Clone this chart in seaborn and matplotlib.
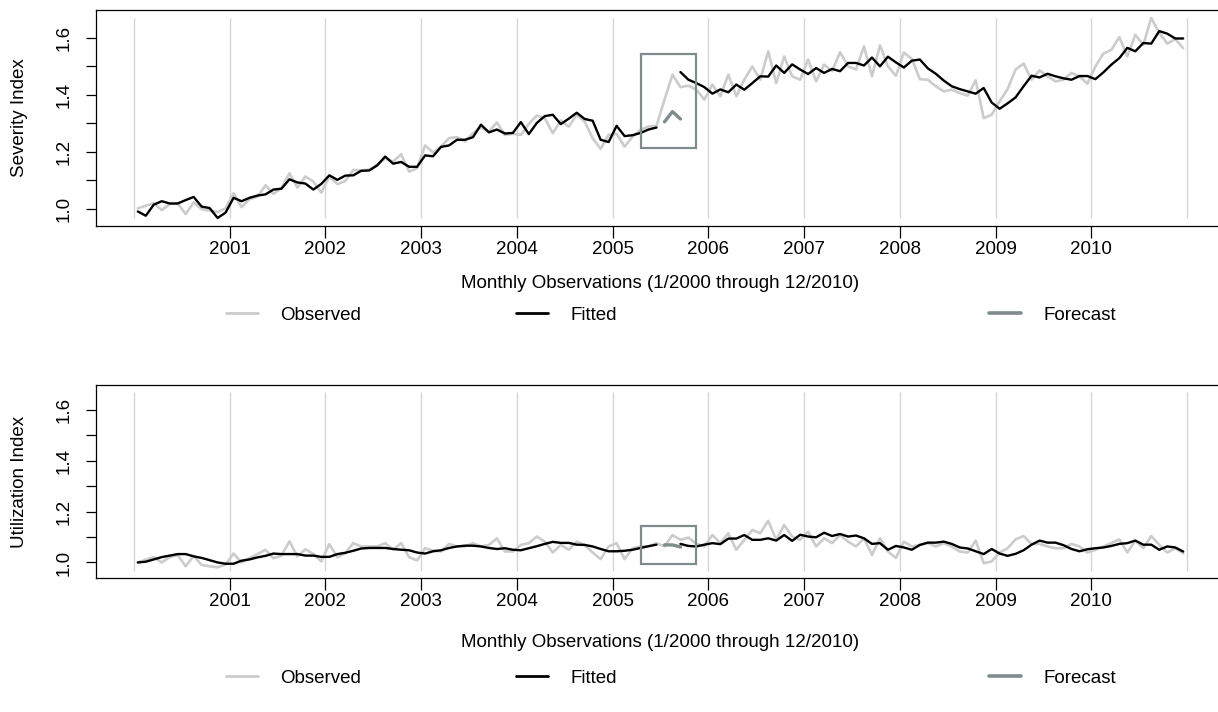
import numpy as np
import pandas as pd
import seaborn as sns
import matplotlib.pyplot as plt
from matplotlib.lines import Line2D
from matplotlib.patches import Rectangle

# monthly index 1..132 = Jan 2000 .. Dec 2010
months = np.arange(1, 133)
year_labels = [str(y) for y in range(2001, 2011)]
forecast_months = [67, 68, 69]

severity_observed = [
    1.001, 1.010, 1.019, 0.995, 1.016, 1.018, 0.981, 1.022, 0.998, 0.993, 0.988, 1.001,
    1.054, 1.005, 1.033, 1.042, 1.082, 1.052, 1.072, 1.124, 1.074, 1.113, 1.095, 1.056,
    1.113, 1.086, 1.097, 1.136, 1.134, 1.137, 1.154, 1.176, 1.165, 1.191, 1.130, 1.142,
    1.222, 1.197, 1.218, 1.248, 1.251, 1.236, 1.265, 1.285, 1.271, 1.303, 1.259, 1.263,
    1.259, 1.298, 1.327, 1.318, 1.265, 1.310, 1.288, 1.330, 1.306, 1.247, 1.210, 1.259,
    1.263, 1.218, 1.253, 1.277, 1.289, 1.291, 1.383, 1.471, 1.427, 1.432, 1.418, 1.383,
    1.436, 1.395, 1.471, 1.395, 1.453, 1.500, 1.453, 1.553, 1.441, 1.535, 1.465, 1.453,
    1.524, 1.447, 1.506, 1.483, 1.550, 1.500, 1.489, 1.570, 1.465, 1.574, 1.500, 1.467,
    1.549, 1.526, 1.455, 1.453, 1.430, 1.412, 1.418, 1.406, 1.397, 1.451, 1.318, 1.330,
    1.377, 1.420, 1.489, 1.510, 1.453, 1.486, 1.465, 1.447, 1.453, 1.477, 1.465, 1.439,
    1.500, 1.545, 1.558, 1.603, 1.535, 1.611, 1.576, 1.670, 1.618, 1.580, 1.596, 1.564,
]
severity_fitted = [
    0.990, 0.975, 1.014, 1.026, 1.018, 1.018, 1.030, 1.041, 1.007, 1.002, 0.967, 0.986,
    1.038, 1.026, 1.038, 1.046, 1.050, 1.067, 1.070, 1.103, 1.092, 1.088, 1.067, 1.087,
    1.117, 1.101, 1.116, 1.117, 1.133, 1.134, 1.152, 1.183, 1.158, 1.164, 1.147, 1.147,
    1.187, 1.184, 1.217, 1.222, 1.242, 1.242, 1.251, 1.295, 1.268, 1.278, 1.264, 1.266,
    1.304, 1.262, 1.301, 1.325, 1.330, 1.297, 1.316, 1.337, 1.315, 1.309, 1.242, 1.234,
    1.291, 1.255, 1.258, 1.266, 1.278, 1.285, None, None, 1.480, 1.453, 1.441, 1.427,
    1.404, 1.419, 1.409, 1.436, 1.418, 1.441, 1.465, 1.464, 1.503, 1.477, 1.507, 1.489,
    1.473, 1.494, 1.477, 1.491, 1.483, 1.512, 1.512, 1.503, 1.531, 1.500, 1.534, 1.514,
    1.496, 1.520, 1.524, 1.493, 1.474, 1.450, 1.430, 1.420, 1.412, 1.404, 1.424, 1.373,
    1.351, 1.370, 1.391, 1.430, 1.467, 1.461, 1.474, 1.465, 1.458, 1.453, 1.466, 1.466,
    1.455, 1.479, 1.506, 1.529, 1.565, 1.553, 1.582, 1.580, 1.624, 1.615, 1.598, 1.598,
]
severity_forecast = [1.305, 1.341, 1.315]

utilization_observed = [
    1.000, 1.011, 1.021, 1.000, 1.021, 1.029, 0.985, 1.026, 0.990, 0.985, 0.981, 0.992,
    1.035, 1.000, 1.017, 1.033, 1.050, 1.017, 1.027, 1.083, 1.024, 1.052, 1.034, 1.004,
    1.072, 1.021, 1.037, 1.076, 1.063, 1.063, 1.063, 1.076, 1.050, 1.076, 1.021, 1.008,
    1.056, 1.047, 1.043, 1.073, 1.063, 1.063, 1.076, 1.063, 1.069, 1.095, 1.043, 1.043,
    1.069, 1.076, 1.102, 1.082, 1.039, 1.069, 1.050, 1.082, 1.069, 1.039, 1.013, 1.063,
    1.076, 1.013, 1.056, 1.063, 1.063, 1.076, 1.063, 1.108, 1.089, 1.098, 1.073, 1.063,
    1.108, 1.076, 1.115, 1.050, 1.089, 1.128, 1.115, 1.164, 1.089, 1.147, 1.102, 1.089,
    1.121, 1.063, 1.095, 1.076, 1.108, 1.082, 1.063, 1.095, 1.030, 1.095, 1.043, 1.018,
    1.082, 1.063, 1.069, 1.076, 1.063, 1.076, 1.063, 1.043, 1.039, 1.086, 0.997, 1.004,
    1.039, 1.056, 1.091, 1.104, 1.073, 1.073, 1.063, 1.056, 1.056, 1.073, 1.063, 1.039,
    1.050, 1.063, 1.076, 1.091, 1.039, 1.086, 1.056, 1.104, 1.069, 1.039, 1.056, 1.036,
]
utilization_fitted = [
    1.000, 1.003, 1.012, 1.021, 1.027, 1.033, 1.033, 1.024, 1.018, 1.009, 1.000, 0.995,
    0.995, 1.007, 1.012, 1.020, 1.026, 1.035, 1.033, 1.033, 1.033, 1.027, 1.027, 1.022,
    1.022, 1.033, 1.038, 1.046, 1.055, 1.057, 1.057, 1.057, 1.053, 1.050, 1.048, 1.039,
    1.035, 1.044, 1.048, 1.057, 1.063, 1.066, 1.066, 1.063, 1.057, 1.053, 1.056, 1.050,
    1.048, 1.056, 1.064, 1.073, 1.081, 1.077, 1.077, 1.070, 1.069, 1.063, 1.053, 1.044,
    1.044, 1.046, 1.050, 1.057, 1.064, 1.070, None, None, 1.073, 1.065, 1.063, 1.070,
    1.076, 1.072, 1.094, 1.094, 1.108, 1.089, 1.089, 1.095, 1.086, 1.108, 1.085, 1.109,
    1.102, 1.099, 1.117, 1.104, 1.112, 1.102, 1.106, 1.095, 1.073, 1.076, 1.050, 1.065,
    1.059, 1.050, 1.069, 1.078, 1.078, 1.082, 1.073, 1.059, 1.055, 1.044, 1.033, 1.053,
    1.035, 1.026, 1.034, 1.048, 1.070, 1.086, 1.078, 1.078, 1.068, 1.053, 1.044, 1.052,
    1.056, 1.059, 1.065, 1.073, 1.076, 1.086, 1.070, 1.070, 1.050, 1.063, 1.059, 1.043,
]
utilization_forecast = [1.069, 1.069, 1.061]

OBS_COLOR = "#cccccc"
FIT_COLOR = "#000000"
FC_COLOR = "#808b8b"
GRID_COLOR = "#d6d6d6"
FS = 13.5

W, H = 1218, 712


def _segments(values):
    s = pd.Series(values, index=months, dtype=float)
    runs = s.isna().cumsum()
    for _, seg in s.dropna().groupby(runs[s.notna()]):
        yield seg


def draw_panel(fig, rect, observed, fitted, forecast, box, ylabel, xlabel_y, legend_y):
    ax = fig.add_axes(rect)

    sev = [v for v in severity_observed + severity_fitted if v is not None]
    lo, hi = min(sev), max(sev)
    pad = 0.04 * (hi - lo)
    ax.set_ylim(lo - pad, hi + pad)
    ax.set_xlim(1 - 0.04 * 131, 132 + 0.04 * 131)

    ax.vlines(np.arange(0.5, 133, 12), lo, hi, color=GRID_COLOR, lw=1.0, zorder=0)

    sns.lineplot(x=months, y=observed, ax=ax, color=OBS_COLOR, lw=1.9,
                 estimator=None, sort=False)
    for seg in _segments(fitted):
        sns.lineplot(x=seg.index, y=seg.values, ax=ax, color=FIT_COLOR, lw=1.7,
                     estimator=None, sort=False)
    sns.lineplot(x=forecast_months, y=forecast, ax=ax, color=FC_COLOR, lw=2.4,
                 estimator=None, sort=False)

    x0, x1, y0, y1 = box
    ax.add_patch(Rectangle((x0, y0), x1 - x0, y1 - y0, fill=False,
                           edgecolor=FC_COLOR, lw=1.6, zorder=5))

    ax.set_xticks(np.arange(12.5, 121, 12))
    ax.set_xticklabels(year_labels)
    yt = np.round(np.arange(1.0, 1.61, 0.1), 1)
    ax.set_yticks(yt)
    ax.set_yticklabels([f"{v:.1f}" if i % 2 == 0 else "" for i, v in enumerate(yt)],
                       rotation=90, va="center")
    ax.tick_params(axis="x", bottom=True, length=8.5, width=0.9, pad=2,
                   labelsize=FS, colors="black")
    ax.tick_params(axis="y", left=True, length=7, width=0.9, pad=10,
                   labelsize=FS, colors="black")

    for sp in ax.spines.values():
        sp.set_color("black")
        sp.set_linewidth(0.9)

    ax.set_ylabel(ylabel, fontsize=FS, color="black")
    ax.yaxis.set_label_coords(-0.060, 0.5)
    ax.set_xlabel("Monthly Observations (1/2000 through 12/2010)", fontsize=FS,
                  color="black", va="center")
    ax.xaxis.set_label_coords(0.5, xlabel_y)

    handles = [Line2D([], [], color=OBS_COLOR, lw=2.0),
               Line2D([], [], color=FIT_COLOR, lw=2.0),
               Line2D([], [], color=FC_COLOR, lw=2.6)]
    labels = ["Observed", "Fitted", "Forecast"]
    for lx, h, lab in zip([226, 516, 989], handles, labels):
        leg = fig.legend(handles=[h], labels=[lab], loc="center left",
                         bbox_to_anchor=(lx / W, 1 - legend_y / H), frameon=False,
                         borderpad=0, borderaxespad=0, handlelength=1.7,
                         handletextpad=1.2, fontsize=FS)
        for t in leg.get_texts():
            t.set_color("black")
    return ax


sns.set_style("white")
plt.rcParams["font.family"] = ["Liberation Sans", "DejaVu Sans"]

fig = plt.figure(figsize=(W / 100, H / 100), dpi=100)

left = 96 / W
width = (1225 - 96) / W
draw_panel(fig, [left, 1 - 226 / H, width, 216 / H],
           severity_observed, severity_fitted, severity_forecast,
           (64, 71, 1.213, 1.545), "Severity Index", -0.264, 315)
draw_panel(fig, [left, 1 - 578 / H, width, 193 / H],
           utilization_observed, utilization_fitted, utilization_forecast,
           (64, 71, 0.994, 1.143), "Utilization Index", -0.332, 678)

fig.savefig("out.png", dpi=100)
